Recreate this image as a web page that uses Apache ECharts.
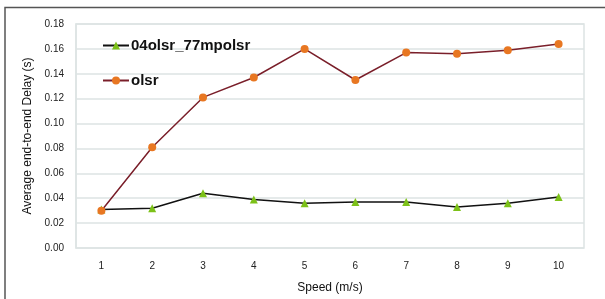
<!DOCTYPE html>
<html>
<head>
<meta charset="utf-8">
<script src="https://cdn.jsdelivr.net/npm/echarts@6/dist/echarts.min.js"></script>
<style>
  html, body { margin: 0; padding: 0; background: #fff; }
  #chart { width: 605px; height: 299px; }
</style>
</head>
<body>
<div id="chart"></div>
<script>
// speed categories (m/s)
var speeds = ["1", "2", "3", "4", "5", "6", "7", "8", "9", "10"];
// average end-to-end delay (s)
var mpolsr = [0.031, 0.032, 0.044, 0.039, 0.036, 0.037, 0.037, 0.033, 0.036, 0.041];
var olsr = [0.030, 0.081, 0.121, 0.137, 0.160, 0.135, 0.157, 0.156, 0.159, 0.164];

var myChart = echarts.init(document.getElementById("chart"));
var option = {
  animation: false,
  grid: {
    left: 76, right: 21, top: 24, bottom: 51,
    show: true, borderColor: "#dde3e3", borderWidth: 1.5,
  },
  graphic: [
    {
      type: "polyline",
      shape: { points: [[5, 299], [5, 7.5], [605, 7.5]] },
      style: { stroke: "#555", lineWidth: 1.5, fill: null },
    },
  ],
  legend: {
    orient: "vertical",
    left: 97,
    top: 33,
    itemGap: 20,
    itemWidth: 26,
    itemHeight: 10,
    textStyle: {
      fontFamily: "Liberation Sans", fontSize: 15, fontWeight: "bold", color: "#111",
      padding: [0, 0, 0, -3],
    },
    data: ["04olsr_77mpolsr", "olsr"],
  },
  xAxis: {
    type: "category",
    data: speeds,
    boundaryGap: true,
    name: "Speed (m/s)",
    nameLocation: "middle",
    nameGap: 34,
    nameTextStyle: { fontFamily: "Liberation Sans", fontSize: 12, color: "#111" },
    axisLine: { show: false },
    axisTick: { show: false },
    axisLabel: { fontFamily: "Liberation Sans", fontSize: 10, color: "#222", margin: 13 },
  },
  yAxis: {
    type: "value",
    min: 0,
    max: 0.18,
    interval: 0.02,
    name: "Average end-to-end Delay (s)",
    nameLocation: "middle",
    nameGap: 40,
    nameTextStyle: { fontFamily: "Liberation Sans", fontSize: 12, color: "#111" },
    axisLine: { show: true, lineStyle: { color: "#dde3e3", width: 1.5 } },
    axisTick: { show: false },
    axisLabel: {
      fontFamily: "Liberation Sans",
      fontSize: 10,
      color: "#222",
      margin: 12,
      formatter: function (v) { return v.toFixed(2); },
    },
    splitLine: { lineStyle: { color: "#dde3e3", width: 1.5 } },
  },
  series: [
    {
      name: "04olsr_77mpolsr",
      type: "line",
      data: mpolsr,
      symbol: "triangle",
      symbolSize: 8,
      itemStyle: { color: "#7cc118" },
      lineStyle: { color: "#111", width: 1.5 },
    },
    {
      name: "olsr",
      type: "line",
      data: olsr,
      symbol: "circle",
      symbolSize: 8,
      itemStyle: { color: "#e87722" },
      lineStyle: { color: "#7a1f2a", width: 1.5 },
    },
  ],
};
myChart.setOption(option);
</script>
</body>
</html>
